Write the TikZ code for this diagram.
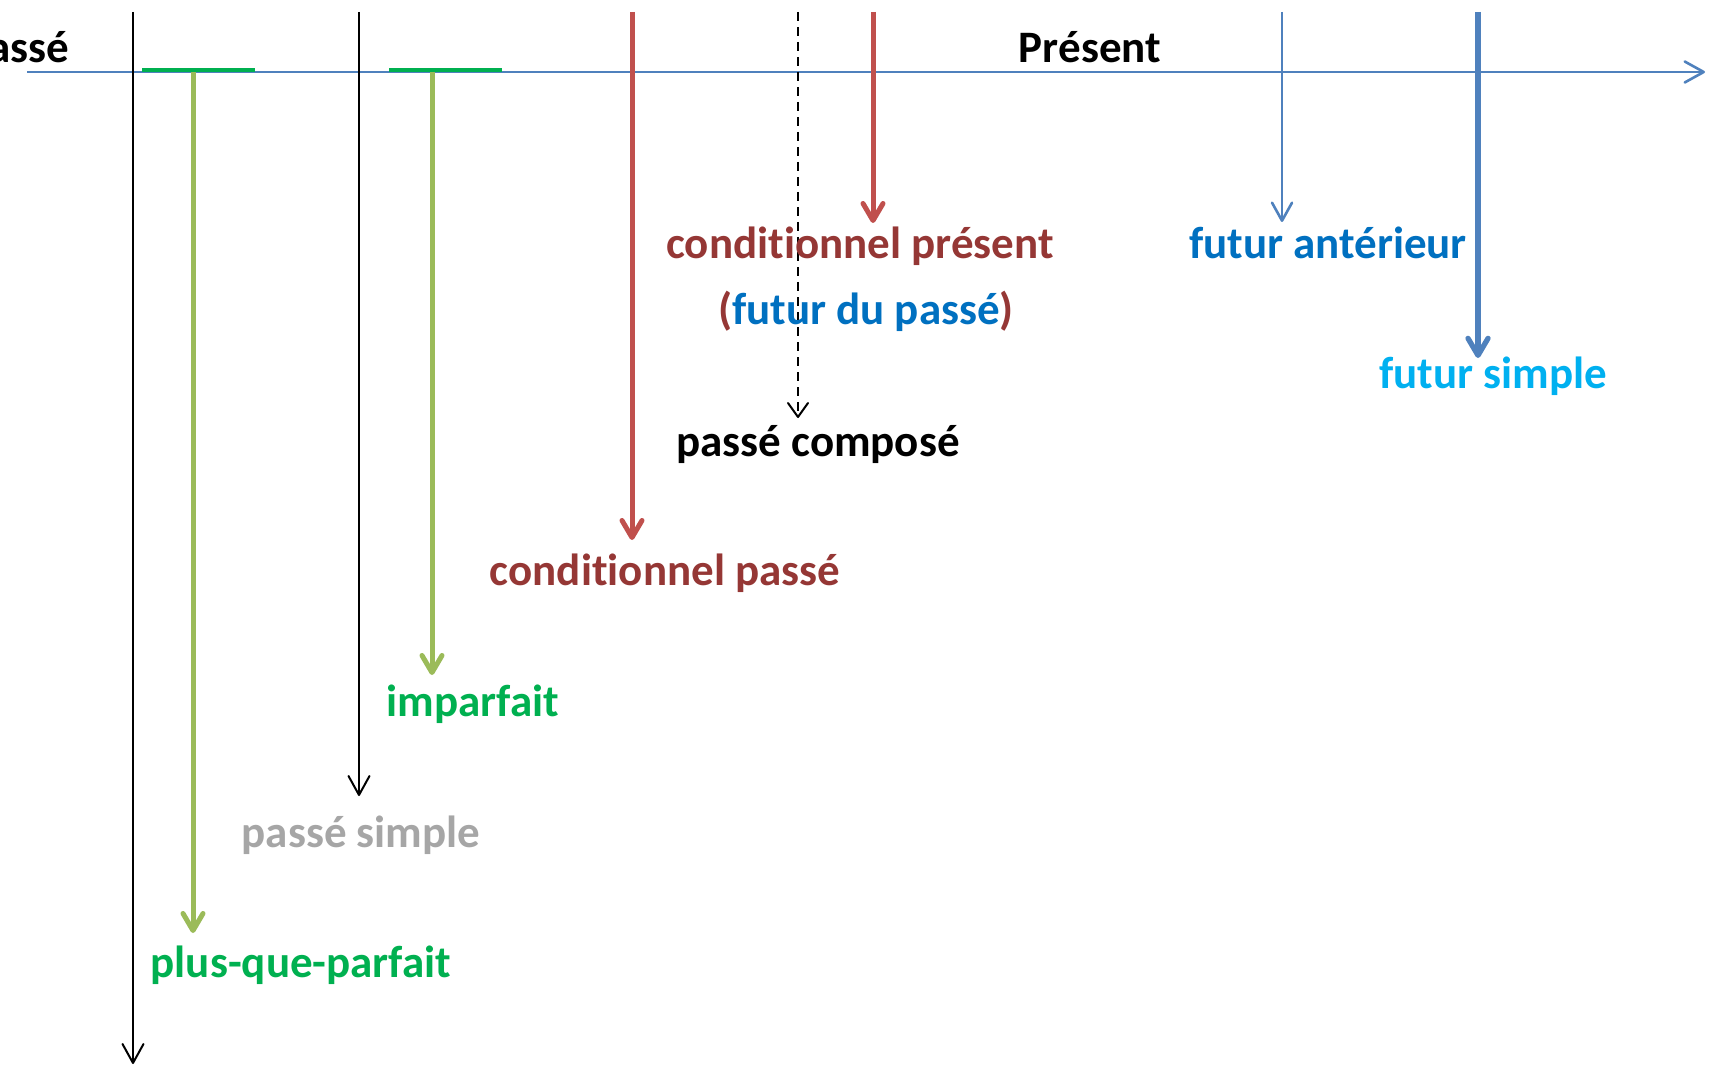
\documentclass[tikz,border=0pt]{standalone}
\usepackage{fontspec}
\setmainfont{Carlito}[RawFeature={-liga;-clig;-calt;-dlig}]
\usetikzlibrary{arrows.meta}
\definecolor{axisblue}{HTML}{4F81BD}
\definecolor{arrred}{HTML}{C0504D}
\definecolor{arrgreen}{HTML}{9BBB59}
\definecolor{bargreen}{HTML}{00B050}
\definecolor{txtred}{HTML}{953735}
\definecolor{txtblue}{HTML}{0070C0}
\definecolor{txtcyan}{HTML}{00B0F0}
\definecolor{txtgreen}{HTML}{00B050}
\definecolor{txtgray}{HTML}{A6A6A6}
\begin{document}
\begin{tikzpicture}[x=1pt,y=-1pt,
  lbl/.style={font=\bfseries\fontsize{45}{50}\selectfont, inner sep=0pt, anchor=base},
  thinarr/.style={line width=2pt, -{Straight Barb[length=19pt,width=21pt,round]}},
  thickarr/.style={line width=5pt, -{Straight Barb[length=17pt,width=20pt,round]}},
  bluethin/.style={axisblue, line width=2.6pt, -{Straight Barb[length=18pt,width=20pt,round]}},
  bluethick/.style={axisblue, line width=5.3pt, -{Straight Barb[length=17pt,width=20pt,round]}},
  gbar/.style={bargreen, line width=4pt}]
\useasboundingbox (0,0) rectangle (1710,1067);
\clip (0,0) rectangle (1710,1067);

% axis
\coordinate (ax0) at (27,72);
\coordinate (ax1) at (1705,72);
\draw[axisblue, line width=2.6pt, -{Straight Barb[length=19pt,width=21pt,round]}] (ax0) -- (ax1);

% headings
\node[lbl, anchor=base east, black] (passe) at (69,63) {Passé};
\node[lbl, black] (present) at (1090,63) {Présent};

% green bars
\coordinate (b1a) at (142,70); \coordinate (b1b) at (255,70);
\coordinate (b2a) at (389,70); \coordinate (b2b) at (502,70);
\draw[gbar] (b1a) -- (b1b);
\draw[gbar] (b2a) -- (b2b);

% black lines
\coordinate (k1t) at (133,12); \coordinate (k1b) at (133,1064);
\coordinate (k2t) at (359,12); \coordinate (k2b) at (359,796);
\draw[black, thinarr] (k1t) -- (k1b);
\draw[black, thinarr] (k2t) -- (k2b);

% green arrows
\coordinate (g1t) at (193,72); \coordinate (g1b) at (193,933);
\coordinate (g2t) at (432,72); \coordinate (g2b) at (432,675);
\draw[arrgreen, thickarr] (g1t) -- (g1b);
\draw[arrgreen, thickarr] (g2t) -- (g2b);

% red arrows
\coordinate (r1t) at (632,12); \coordinate (r1b) at (632,540);
\coordinate (r2t) at (873,12); \coordinate (r2b) at (873,223);
\draw[arrred, thickarr] (r1t) -- (r1b);
\draw[arrred, thickarr] (r2t) -- (r2b);

% dashed
\coordinate (dt) at (798,12); \coordinate (db) at (798,418);
\draw[black, line width=2pt, dash pattern=on 9pt off 6pt, -{Straight Barb[length=14pt,width=20pt,round]}] (dt) -- (db);

% blue arrows
\coordinate (u1t) at (1282,12); \coordinate (u1b) at (1282,222);
\coordinate (u2t) at (1478,12); \coordinate (u2b) at (1478,358);
\draw[bluethin] (u1t) -- (u1b);
\draw[bluethick] (u2t) -- (u2b);

% labels
\node[lbl, txtred] (condpres) at (860,259) {condit\kern0pt ionnel présent};
\node[lbl] (futpasse) at (866,324) {\textcolor{txtred}{(}\textcolor{txtblue}{futur du passé}\textcolor{txtred}{)}};
\node[lbl, txtblue] (futant) at (1328,259) {futur antérieur};
\node[lbl, txtcyan] (futsimp) at (1493,388) {futur simple};
\node[lbl, black] (pcomp) at (818,456) {passé composé};
\node[lbl, txtred] (condpas) at (665,585) {condit\kern0pt ionnel passé};
\node[lbl, txtgreen] (impf) at (473,716) {imparfait};
\node[lbl, txtgray] (psimp) at (361,847) {passé simple};
\node[lbl, txtgreen] (pqp) at (301,977) {plus-que-parfait};
\end{tikzpicture}
\end{document}
